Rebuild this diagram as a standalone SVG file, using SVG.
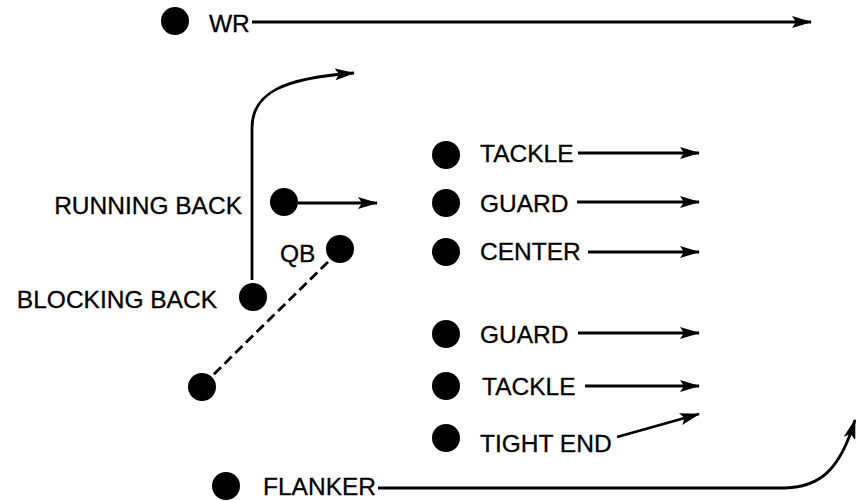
<svg xmlns="http://www.w3.org/2000/svg" width="856" height="501" viewBox="0 0 856 501">
<style>
.dot{fill:#000}
.lbl{font-family:"Liberation Sans",Arial,sans-serif;font-size:24.5px;fill:#000;stroke:#000;stroke-width:0.3}
.end{text-anchor:end}
.ln{fill:none;stroke:#000;stroke-width:2.8;marker-end:url(#ah)}
.dash{fill:none;stroke:#000;stroke-width:2.8;stroke-dasharray:10 5}
</style>
<defs>
<marker id="ah" viewBox="0 0 20 12" refX="19" refY="6" markerWidth="20" markerHeight="12" markerUnits="userSpaceOnUse" orient="auto">
<path d="M0,0 L20,6 L0,12 L4,6 z" fill="#000"/>
</marker>
</defs>
<rect width="856" height="501" fill="#fff"/>
<g id="connectors">
<path class="ln" d="M252,22 L811,22"/>
<path class="ln" d="M252,280 L252,128 C252,92 285,78 354,73"/>
<path class="ln" d="M298,203 L377,203"/>
<path class="dash" d="M328,262 L213,375"/>
<path class="ln" d="M578,153 L699,153"/>
<path class="ln" d="M577,202 L699,202"/>
<path class="ln" d="M588,252 L699,252"/>
<path class="ln" d="M578,333 L699,333"/>
<path class="ln" d="M585,386 L699,386"/>
<path class="ln" d="M617,437 L699,414"/>
<path class="ln" d="M378,488 L785,488 C820,487 840,470 855,420"/>
</g>
<g id="wr"><circle class="dot" cx="175" cy="21" r="14"/><text class="lbl" x="209" y="32">WR</text></g>
<g id="running-back"><circle class="dot" cx="284" cy="202" r="14"/><text class="lbl end" x="242" y="214">RUNNING BACK</text></g>
<g id="qb"><circle class="dot" cx="340" cy="249" r="14"/><text class="lbl" x="280" y="262">QB</text></g>
<g id="blocking-back"><circle class="dot" cx="253" cy="297" r="14"/><text class="lbl end" x="217" y="308">BLOCKING BACK</text></g>
<g id="deep-back"><circle class="dot" cx="202" cy="387" r="14"/></g>
<g id="tackle-1"><circle class="dot" cx="446" cy="155" r="14"/><text class="lbl" x="480" y="162">TACKLE</text></g>
<g id="guard-1"><circle class="dot" cx="446" cy="203" r="14"/><text class="lbl" x="480" y="212">GUARD</text></g>
<g id="center"><circle class="dot" cx="446" cy="252" r="14"/><text class="lbl" x="480" y="260">CENTER</text></g>
<g id="guard-2"><circle class="dot" cx="446" cy="334" r="14"/><text class="lbl" x="480" y="343">GUARD</text></g>
<g id="tackle-2"><circle class="dot" cx="446" cy="386" r="14"/><text class="lbl" x="482" y="395">TACKLE</text></g>
<g id="tight-end"><circle class="dot" cx="446" cy="438" r="14"/><text class="lbl" x="480" y="452">TIGHT END</text></g>
<g id="flanker"><circle class="dot" cx="226" cy="486" r="14"/><text class="lbl" x="263" y="495">FLANKER</text></g>
</svg>
